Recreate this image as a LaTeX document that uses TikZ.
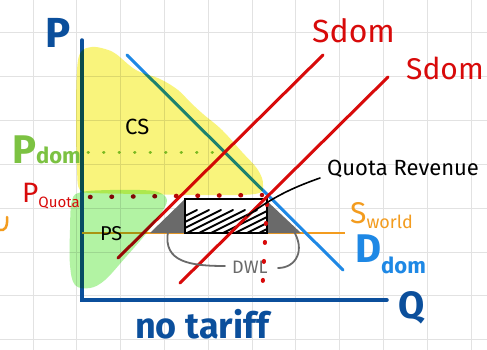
\documentclass[tikz,border=0pt]{standalone}
\usepackage{fontspec}
\setmainfont{Fira Sans}
\definecolor{axisblue}{HTML}{0B4F9C}
\definecolor{dblue}{HTML}{1E88E5}
\definecolor{sred}{HTML}{D80A0A}
\definecolor{sorange}{HTML}{F39C1F}
\definecolor{pgreen}{HTML}{7CC242}
\definecolor{hlyellow}{HTML}{F9F47C}
\definecolor{hlgreen}{HTML}{B2F3A3}
\definecolor{gridc}{HTML}{E2E2E2}
\definecolor{dwlgray}{HTML}{6A6A6A}
\tikzset{
  axisline/.style={draw=axisblue, line width=3.5pt, line cap=round},
  dline/.style={draw=dblue, line width=3pt, line cap=round},
  sline/.style={draw=sred, line width=3pt, line cap=round},
  worldline/.style={draw=sorange, line width=2pt},
  lbl/.style={inner sep=0pt, anchor=base west},
}
\begin{document}
\begin{tikzpicture}[x=1pt,y=-1pt]
\useasboundingbox (0,0) rectangle (487,350);
\fill[white] (0,0) rectangle (487,350);
% grid
\foreach \g in {33,76.8,120.6,164.4,208.2,252,295.8,339.6,383.4,427.2,471}
  \draw[gridc, line width=1pt] (\g,0) -- (\g,350);
\foreach \g in {33,76.8,120.6,164.4,208.2,252,295.8,339.6}
  \draw[gridc, line width=1pt] (0,\g) -- (487,\g);
% coordinates
\coordinate (Ytop) at (82,40);
\coordinate (O) at (82,300);
\coordinate (Xend) at (387,300);
\coordinate (D1) at (127,55);
\coordinate (D2) at (343,270);
\coordinate (S1a) at (118,258);
\coordinate (S1b) at (323,55);
\coordinate (S2a) at (180,283);
\coordinate (S2b) at (388,77);
\coordinate (SW1) at (82,233);
\coordinate (SW2) at (345,233);
\coordinate (PD1) at (88,152);
\coordinate (PD2) at (222,152);
\coordinate (PQ1) at (90,197);
\coordinate (PQ2) at (262,195);
\coordinate (V1) at (267,204);
\coordinate (V2) at (262,297);
\coordinate (R1) at (185,199);
\coordinate (R2) at (267,233);
% axes
\draw[axisline] (Ytop) -- (O) -- (Xend);
% world supply
\draw[worldline] (SW1) -- (SW2);
% demand
\draw[dline] (D1) -- (D2);
% DWL triangles
\fill[dwlgray] (150,233) -- (184,200) -- (184,233) -- cycle;
\fill[dwlgray] (268,202) -- (268,233) -- (301,233) -- cycle;
% quota rectangle with hatch
\fill[white] (R1) rectangle (R2);
\begin{scope}
  \clip (R1) rectangle (R2);
  \foreach \s in {-40,-28,...,80}
    \draw[black, line width=1.8pt, line cap=round] (185+\s,236) -- ++(52,-26);
\end{scope}
\draw[black, line width=2pt] (R1) rectangle (R2);
% supplies
\draw[sline] (S1a) -- (S1b);
\draw[sline] (S2a) -- (S2b);
% dotted price lines
\draw[pgreen, line width=3pt, line cap=round, dash pattern=on 0.5pt off 15pt] (PD1) -- (PD2);
\draw[sred!85!black, line width=4.5pt, line cap=round, dash pattern=on 0.5pt off 21pt] (PQ1) -- (PQ2);
\draw[sred, line width=4pt, line cap=round, dash pattern=on 1pt off 18pt] (V1) -- (V2);
% quota revenue leader
\coordinate (QL1) at (247,216);
\coordinate (QL2) at (320,178);
\draw[black, line width=1.6pt, line cap=round] (QL1) to[bend left=8] (QL2);
% DWL braces
\coordinate (B1) at (168,232);
\coordinate (B2) at (225,266);
\coordinate (B3) at (293,230);
\coordinate (B4) at (278,268);
\draw[dwlgray, line width=1.8pt, line cap=round] (B1) .. controls (163,262) and (190,266) .. (B2);
\draw[dwlgray, line width=1.8pt, line cap=round] (B3) .. controls (306,250) and (296,268) .. (B4);
% orange fragment at left edge
\draw[sorange, line width=2.5pt, line cap=round] (7,217) .. controls (8,228) and (4,231) .. (0,230);
% highlighter
\begin{scope}[blend mode=multiply]
\fill[hlyellow] plot[smooth cycle, tension=0.6] coordinates {
  (77,70) (81,52) (92,47) (105,49) (116,54) (136,70) (160,79) (178,90)
  (190,102) (203,114) (222,130) (242,152) (258,170) (263,185) (255,194)
  (200,195) (140,194) (95,193) (80,190) (77,170) (76,120)};
\fill[hlgreen] plot[smooth cycle, tension=0.6] coordinates {
  (72,200) (82,192) (110,190) (140,190) (158,192) (167,200) (160,215)
  (145,235) (125,258) (105,280) (90,288) (75,285) (70,265) (70,230)};
\end{scope}
% labels
\node[lbl, text=axisblue, font=\bfseries\fontsize{42}{42}\selectfont] (Plbl) at (45,48) {P};
\node[lbl, text=axisblue, font=\bfseries\fontsize{38}{38}\selectfont] (Qlbl) at (398,318) {Q};
\node[lbl, text=axisblue, font=\bfseries\fontsize{36}{36}\selectfont] (title) at (135,338) {no tariff};
\node[lbl, text=sred, font=\fontsize{32}{32}\selectfont] (Sdom1) at (312,43) {Sdom};
\node[lbl, text=sred, font=\fontsize{30}{30}\selectfont] (Sdom2) at (406,80) {Sdom};
\node[lbl, text=pgreen, font=\bfseries] (Pdom) at (12,163) {\fontsize{40}{40}\selectfont P\fontsize{22}{22}\selectfont dom};
\node[lbl, text=sred] (Pquota) at (22,202) {\fontsize{28}{28}\selectfont P\raisebox{-5pt}{\fontsize{15}{15}\selectfont Quota}};
\node[lbl, text=sorange] (Sworld) at (350,223) {\fontsize{30}{30}\selectfont S\raisebox{-5pt}{\fontsize{18}{18}\selectfont world}};
\node[lbl, text=dblue, font=\bfseries] (Ddom) at (355,262) {\fontsize{40}{40}\selectfont D\raisebox{-11pt}{\fontsize{22}{22}\selectfont dom}};
\node[lbl, text=black, font=\fontsize{22}{22}\selectfont] (QR) at (327,175) {Quota Revenue};
\node[lbl, text=black, font=\fontsize{22}{22}\selectfont] (CS) at (125,135) {CS};
\node[lbl, text=black, font=\fontsize{20}{20}\selectfont] (PS) at (100,240) {PS};
\node[lbl, text=dwlgray, font=\fontsize{18}{18}\selectfont] (DWL) at (232,273) {DWL};
\end{tikzpicture}
\end{document}
